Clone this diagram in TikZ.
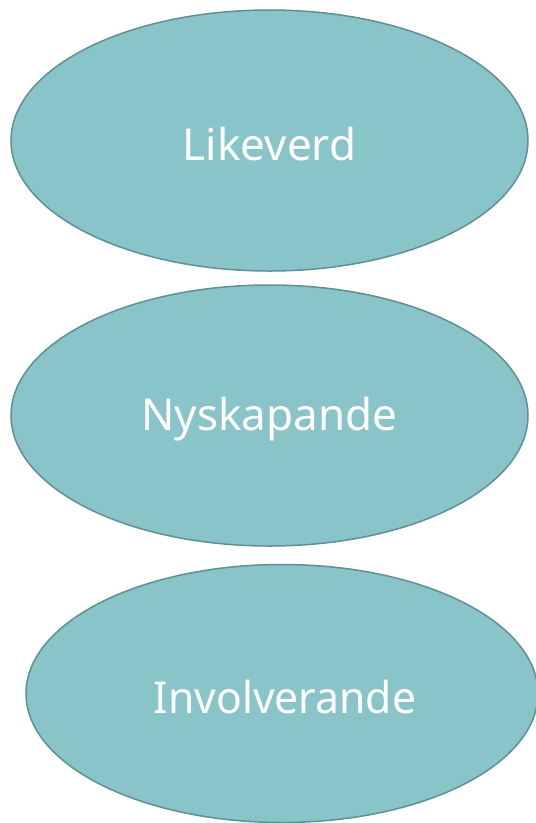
\documentclass[tikz,border=0pt]{standalone}
\usepackage{fontspec}
\setmainfont{Noto Sans}
\usetikzlibrary{shapes.geometric}
\definecolor{ellfill}{HTML}{88C4C8}
\definecolor{elldraw}{HTML}{5E9094}
\begin{document}
\begin{tikzpicture}[x=1pt,y=-1pt,
  oval/.style={ellipse,fill=ellfill,draw=elldraw,line width=1.5pt,inner sep=0pt,
    minimum width=#1,minimum height=261pt},
  oval/.default=517pt,
  lbl/.style={text=white,font=\fontsize{44}{50}\selectfont}]
\useasboundingbox (0,0) rectangle (536,823);
\node[oval] (a) at (269.5,140.5) {};
\node[oval] (b) at (269.5,415.5) {};
\node[oval=512pt,minimum height=258pt] (c) at (282,693.5) {};
\node[lbl] (ta) at ([yshift=-3pt]a.center) {Likeverd};
\node[lbl] (tb) at ([yshift=-4pt]b.center) {Nyskapande};
\node[lbl,xscale=0.97] (tc) at ([yshift=-3pt,xshift=3pt]c.center) {Involverande};
\end{tikzpicture}
\end{document}
